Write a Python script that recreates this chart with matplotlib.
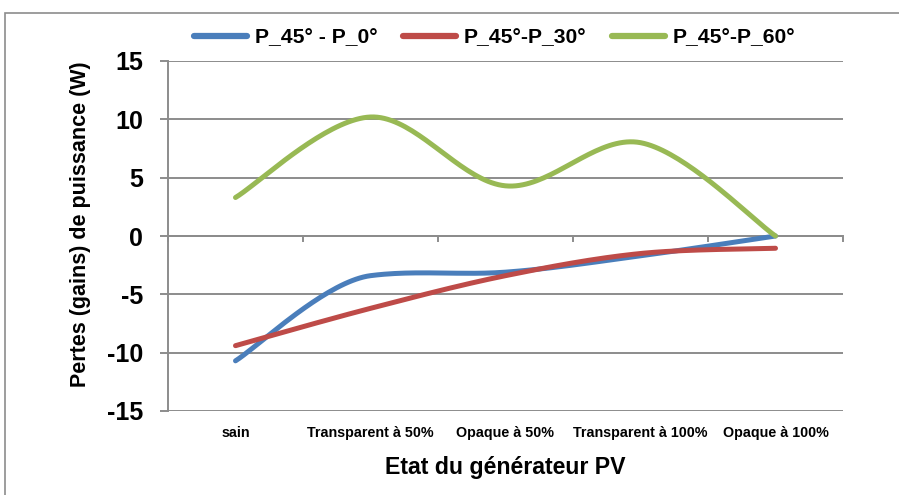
import numpy as np
import matplotlib.pyplot as plt
from matplotlib.patches import Rectangle

# =========================
# DATA
# =========================
categories = ["sain", "Transparent à 50%", "Opaque à 50%",
              "Transparent à 100%", "Opaque à 100%"]
p45_p0 = [-10.7, -3.4, -3.1, -1.7, 0.0]
p45_p30 = [-9.4, -6.2, -3.4, -1.5, -1.05]
p45_p60 = [3.3, 10.2, 4.3, 8.0, 0.0]

series = [
    ("P_45° - P_0°", p45_p0, "#4A7EBB"),
    ("P_45°-P_30°", p45_p30, "#BE4B48"),
    ("P_45°-P_60°", p45_p60, "#98B954"),
]
yticks = [-15, -10, -5, 0, 5, 10, 15]

FONT = ["Liberation Sans", "DejaVu Sans"]
GRID = "#8C8C8C"


def smooth(ys, n=40):
    # bezier smoothing (catmull-rom handles, damped where one side is flat)
    y = np.asarray(ys, dtype=float)
    k = len(y)
    sec = np.diff(y)
    m = np.zeros(k)
    for i in range(1, k - 1):
        m[i] = (y[i + 1] - y[i - 1]) / 2
        if sec[i - 1] * sec[i] > 0:
            lim = 5 * min(abs(sec[i - 1]), abs(sec[i]))
            m[i] = np.sign(m[i]) * min(abs(m[i]), lim)
    xs, out = [0.0], [y[0]]
    t = np.linspace(0, 1, n)[1:]
    for i in range(k - 1):
        # end segments: handle points toward the neighbour, 1/6 long
        if i == 0:
            c1 = (i + 1 / 6, y[i] + sec[i] / 6)
        else:
            c1 = (i + 1 / 3, y[i] + m[i] / 3)
        if i == k - 2:
            c2 = (i + 1 - 1 / 6, y[i + 1] - sec[i] / 6)
        else:
            c2 = (i + 1 - 1 / 3, y[i + 1] - m[i + 1] / 3)
        b0, b1, b2, b3 = (1 - t) ** 3, 3 * (1 - t) ** 2 * t, 3 * (1 - t) * t ** 2, t ** 3
        xs.extend(b0 * i + b1 * c1[0] + b2 * c2[0] + b3 * (i + 1))
        out.extend(b0 * y[i] + b1 * c1[1] + b2 * c2[1] + b3 * y[i + 1])
    return np.array(xs), np.array(out)


fig = plt.figure(figsize=(8.99, 4.95), dpi=100)
fig.patches.append(Rectangle((5 / 899, -0.01), 1.0, 1 - 13 / 495 + 0.01,
                             transform=fig.transFigure, fill=False,
                             edgecolor="#8C8C8C", linewidth=1.2))

ax = fig.add_axes([168 / 899, 1 - 411 / 495, 675 / 899, 350 / 495])
x = np.arange(len(categories))

for name, vals, col in series:
    sx, sy = smooth(vals)
    ax.plot(sx, sy, color=col, linewidth=3.6, solid_capstyle="round",
            label=name, zorder=3)

ax.set_xlim(-0.5, len(categories) - 0.5)
ax.set_ylim(-15, 15)
ax.set_yticks(yticks)
ax.set_yticklabels([str(v) for v in yticks], fontfamily=FONT,
                   fontweight="bold", fontsize=18)
for v in yticks:
    ax.axhline(v, color=GRID, linewidth=1.4, zorder=1)

# category axis crosses at 0, ticks between categories
ax.plot([-0.5, len(categories) - 0.5], [0, 0], color=GRID, linewidth=1.4, zorder=1)
for b in np.arange(-0.5, len(categories), 1.0):
    ax.plot([b, b], [0, -0.45], color=GRID, linewidth=1.4, zorder=1,
            clip_on=False)

ax.set_xticks(x)
ax.set_xticklabels(categories, fontfamily=FONT, fontweight="bold", fontsize=10.3)
ax.tick_params(axis="x", length=0, pad=11)
ax.tick_params(axis="y", length=6, width=1.4, color=GRID, pad=12)

for s in ["top", "right", "bottom"]:
    ax.spines[s].set_visible(False)
ax.spines["left"].set_color(GRID)
ax.spines["left"].set_linewidth(1.4)

ax.set_ylabel("Pertes (gains) de puissance (W)", fontfamily=FONT,
              fontweight="bold", fontsize=15.5, va="center")
ax.yaxis.set_label_coords(-0.129, 0.534)
ax.set_xlabel("Etat du générateur PV", fontfamily=FONT,
              fontweight="bold", fontsize=16.7, labelpad=11)

leg = ax.legend(loc="lower center", bbox_to_anchor=(0.484, 0.985), ncol=3,
                frameon=False, handlelength=2.5, handletextpad=0.38,
                columnspacing=1.2,
                prop={"family": FONT, "weight": "bold", "size": 15.2})
for h in leg.get_lines():
    h.set_linewidth(4.5)

fig.savefig("out.png", dpi=100)
